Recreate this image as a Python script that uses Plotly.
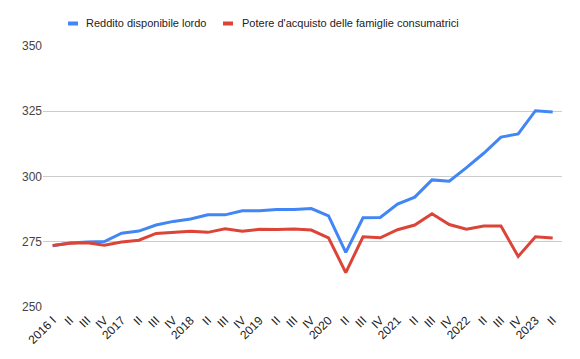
import plotly.graph_objects as go

years = ["2016", "2017", "2018", "2019", "2020", "2021", "2022", "2023"]
quarters = ["I", "II", "III", "IV"]
n_points = 30

# tick labels: first quarter of each year shows the year (first one "2016 I")
tick_labels = []
for y in years:
    for q in quarters:
        if len(tick_labels) >= n_points:
            break
        if q == "I":
            tick_labels.append("2016 I" if y == "2016" else y)
        else:
            tick_labels.append(q)

reddito = [273.5, 274.5, 274.9, 275.1, 278.3, 279.1, 281.4, 282.8, 283.7, 285.3,
           285.3, 286.9, 286.9, 287.4, 287.4, 287.7, 284.9, 270.9, 284.2, 284.3,
           289.4, 292.1, 298.7, 298.2, 303.4, 308.9, 315.1, 316.3, 325.2, 324.7]
potere = [273.6, 274.4, 274.6, 273.7, 274.9, 275.6, 278.2, 278.7, 279.0, 278.6,
          280.0, 279.0, 279.8, 279.7, 279.9, 279.5, 276.5, 263.2, 276.9, 276.5,
          279.6, 281.4, 285.7, 281.6, 279.8, 281.0, 281.0, 269.4, 276.9, 276.4]

series_names = ["Reddito disponibile lordo", "Potere d'acquisto delle famiglie consumatrici"]
colors = ["#4285F4", "#DB4437"]

x = list(range(n_points))
font_family = "Arial, Liberation Sans, sans-serif"

fig = go.Figure()
for name, vals, col in zip(series_names, [reddito, potere], colors):
    fig.add_trace(go.Scatter(x=x, y=vals, mode="lines", name=name,
                             line=dict(color=col, width=3), showlegend=False))

# the page body has an 8px margin, so the figure is drawn 8px in from the corner
OFF = 8
W, H = 580 - OFF, 359 - OFF
ml, mt = 43 - OFF, 46 - OFF
plot_right, plot_bottom = 562 - OFF, 307 - OFF
mr, mb = W - plot_right, H - plot_bottom
pw = W - ml - mr
ph = H - mt - mb

# custom legend with short swatches like the reference
legend_y = 23.5 - OFF
swatch_x = [68 - OFF, 223 - OFF]
text_x = [86 - OFF, 242 - OFF]
shapes = []
annotations = []
for sx, tx, name, col in zip(swatch_x, text_x, series_names, colors):
    shapes.append(dict(type="rect", xref="paper", yref="paper",
                       x0=(sx - ml) / pw, x1=(sx + 10 - ml) / pw,
                       y0=(H - mb - (legend_y + 2)) / ph,
                       y1=(H - mb - (legend_y - 2)) / ph,
                       fillcolor=col, line=dict(width=0)))
    annotations.append(dict(xref="paper", yref="paper",
                            x=(tx - ml) / pw, y=(H - mb - legend_y) / ph,
                            text=name, showarrow=False, xanchor="left", yanchor="middle",
                            xshift=-2,
                            font=dict(family=font_family, size=11, color="#222222")))

fig.update_layout(
    template="none",
    width=W, height=H,
    margin=dict(l=ml, r=mr, t=mt, b=mb, pad=0),
    paper_bgcolor="white", plot_bgcolor="white",
    font=dict(family=font_family, size=12, color="#222222"),
    showlegend=False,
    xaxis=dict(range=[-0.56, 29.54], tickmode="array", tickvals=x, ticktext=tick_labels,
               tickangle=-45, showgrid=False, zeroline=False, showline=False, ticks="",
               automargin=False, ticklabelstandoff=3,
               tickfont=dict(family=font_family, size=12, color="#222222")),
    yaxis=dict(range=[250, 350], tickvals=[250, 275, 300, 325, 350], showgrid=True,
               gridcolor="#cccccc", gridwidth=1, zeroline=False, showline=False, ticks="",
               automargin=False,
               tickfont=dict(family=font_family, size=12, color="#444444")),
    shapes=shapes, annotations=annotations,
)

fig.write_html("out.html")
